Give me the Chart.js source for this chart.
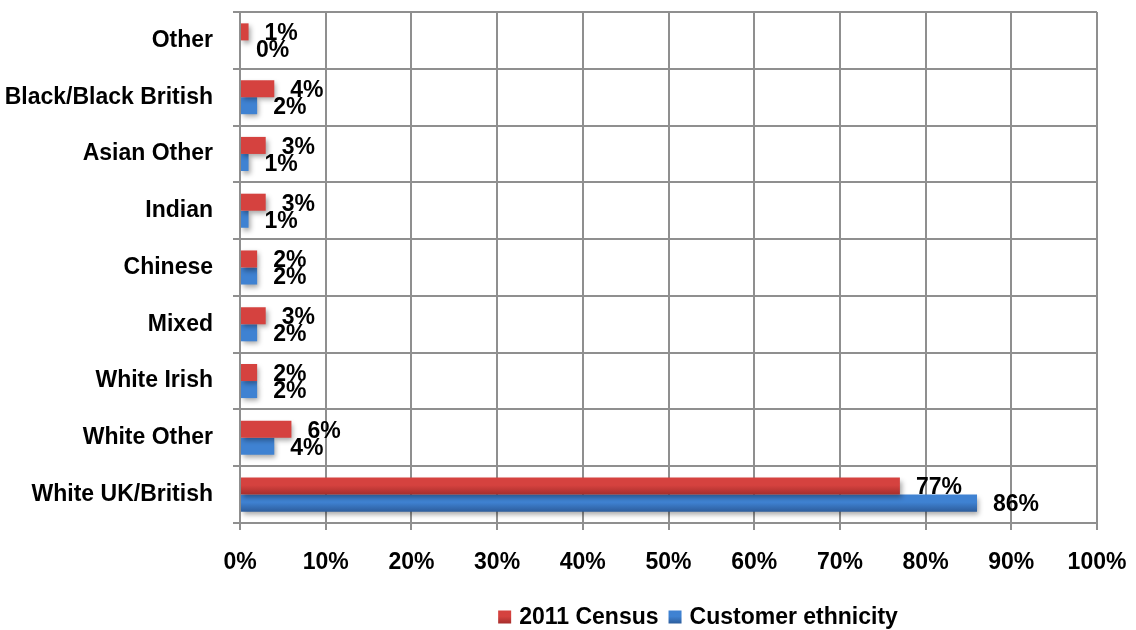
<!DOCTYPE html>
<html>
<head>
<meta charset="utf-8">
<script src="https://cdn.jsdelivr.net/npm/chart.js@4.4.0/dist/chart.umd.min.js"></script>
<style>
  html, body { margin: 0; padding: 0; background: #fff; }
  #wrap { width: 1136px; height: 630px; }
</style>
</head>
<body>
<div id="wrap"><canvas id="chart"></canvas></div>
<script>
const categories = ['Other', 'Black/Black British', 'Asian Other', 'Indian', 'Chinese', 'Mixed', 'White Irish', 'White Other', 'White UK/British'];
const census2011 = [1, 4, 3, 3, 2, 3, 2, 6, 77];
const customerEthnicity = [0, 2, 1, 1, 2, 2, 2, 4, 86];
const seriesNames = ['2011 Census', 'Customer ethnicity'];
const xTicks = [0, 10, 20, 30, 40, 50, 60, 70, 80, 90, 100];

const FONT = '"Liberation Sans", Arial, sans-serif';
const gradients = [['#d5423f', '#a62e2c'], ['#3f82d2', '#2d5d9c']];
const gridColor = '#8f8f8f';

function barGradient(ctx, top, bottom, i) {
    const g = ctx.createLinearGradient(0, top, 0, bottom);
    g.addColorStop(0, gradients[i][0]);
    g.addColorStop(0.45, gradients[i][0]);
    g.addColorStop(1, gradients[i][1]);
    return g;
}

// shaded bars with a soft drop shadow
const barLook = {
    id: 'barLook',
    beforeDatasetDraw(chart, args) {
        const ctx = chart.ctx;
        args.meta.data.forEach(el => {
            const p = el.getProps(['y', 'height'], true);
            el.options.backgroundColor = barGradient(ctx, p.y - p.height / 2, p.y + p.height / 2, args.index);
        });
        ctx.save();
        ctx.shadowColor = 'rgba(0,0,0,0.35)';
        ctx.shadowBlur = 5;
        ctx.shadowOffsetX = 2;
        ctx.shadowOffsetY = 3;
    },
    afterDatasetDraw(chart) {
        chart.ctx.restore();
    }
};

// value labels just past the end of each bar
const valueLabels = {
    id: 'valueLabels',
    afterDatasetsDraw(chart) {
        const ctx = chart.ctx;
        ctx.save();
        ctx.font = 'bold 23px ' + FONT;
        ctx.fillStyle = '#000';
        ctx.textAlign = 'left';
        ctx.textBaseline = 'middle';
        chart.data.datasets.forEach((ds, i) => {
            chart.getDatasetMeta(i).data.forEach((el, j) => {
                const p = el.getProps(['x', 'y'], true);
                ctx.fillText(ds.data[j] + '%', p.x + 16, p.y + 2);
            });
        });
        ctx.restore();
    }
};

// legend centred under the plot
const bottomLegend = {
    id: 'bottomLegend',
    afterDraw(chart) {
        const ctx = chart.ctx;
        ctx.save();
        ctx.font = 'bold 23px ' + FONT;
        ctx.textBaseline = 'middle';
        ctx.fillStyle = '#000';
        const box = 13, gapBox = 8, gapItem = 10;
        const widths = chart.data.datasets.map(ds => box + gapBox + ctx.measureText(ds.label).width);
        const total = widths.reduce((a, b) => a + b, 0) + gapItem * (widths.length - 1);
        const cy = 617;
        let x = 698 - total / 2;
        chart.data.datasets.forEach((ds, i) => {
            ctx.fillStyle = barGradient(ctx, cy - box / 2, cy + box / 2, i);
            ctx.fillRect(x, cy - box / 2, box, box);
            ctx.fillStyle = '#000';
            ctx.fillText(ds.label, x + box + gapBox, cy + 1);
            x += widths[i] + gapItem;
        });
        ctx.restore();
    }
};

const config = {
    type: 'bar',
    data: {
        labels: categories,
        datasets: [
            { label: seriesNames[0], data: census2011, backgroundColor: gradients[0][0] },
            { label: seriesNames[1], data: customerEthnicity, backgroundColor: gradients[1][0] }
        ]
    },
    options: {
        indexAxis: 'y',
        responsive: true,
        maintainAspectRatio: false,
        animation: false,
        categoryPercentage: 0.6,
        barPercentage: 1,
        layout: { padding: { top: 12, right: 39, bottom: 0, left: 0 } },
        plugins: {
            legend: { display: false },
            tooltip: { enabled: false }
        },
        scales: {
            x: {
                min: 0,
                max: 100,
                afterBuildTicks(scale) {
                    scale.ticks = xTicks.map(v => ({ value: v }));
                },
                afterFit(scale) {
                    scale.height = 107;
                    scale.paddingLeft = 0;
                    scale.paddingRight = 0;
                },
                grid: { color: gridColor, lineWidth: 2, tickLength: 7, drawTicks: true },
                border: { color: gridColor, width: 2 },
                ticks: {
                    padding: 19,
                    color: '#000',
                    font: { family: FONT, size: 23, weight: 'bold' },
                    callback: v => v + '%'
                }
            },
            y: {
                afterFit(scale) {
                    scale.width = 240;
                    scale.paddingTop = 0;
                    scale.paddingBottom = 0;
                },
                grid: { color: gridColor, lineWidth: 2, tickLength: 7, offset: true },
                border: { color: gridColor, width: 2 },
                ticks: {
                    padding: 20,
                    color: '#000',
                    font: { family: FONT, size: 23, weight: 'bold', lineHeight: 1.35 }
                }
            }
        }
    },
    plugins: [barLook, valueLabels, bottomLegend]
};

new Chart(document.getElementById('chart'), config);
</script>
</body>
</html>
